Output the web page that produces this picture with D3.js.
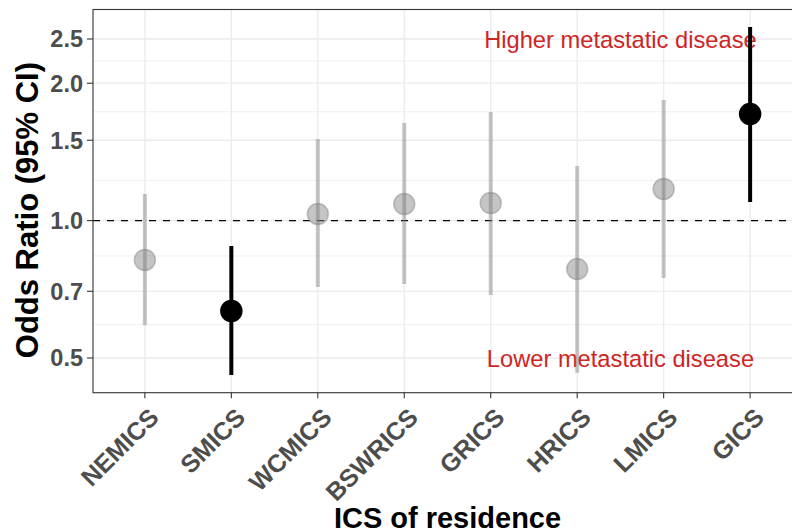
<!DOCTYPE html>
<html>
<head>
<meta charset="utf-8">
<script src="https://cdn.jsdelivr.net/npm/d3@7"></script>
<style>
  body { margin: 0; background: #fff; }
  svg { display: block; font-family: "Liberation Sans", Arial, sans-serif; }
</style>
</head>
<body>
<svg id="chart" width="792" height="532"></svg>
<script>
// odds ratios by ICS of residence
var categories = ["NEMICS","SMICS","WCMICS","BSWRICS","GRICS","HRICS","LMICS","GICS"];
var oddsRatio = [0.82, 0.634, 1.034, 1.087, 1.093, 0.783, 1.173, 1.712];
var lowerCI = [0.59, 0.459, 0.715, 0.726, 0.687, 0.464, 0.749, 1.098];
var upperCI = [1.144, 0.88, 1.509, 1.636, 1.73, 1.317, 1.838, 2.656];
var significant = [false, true, false, false, false, false, false, true];
var yTicks = [0.5, 0.7, 1.0, 1.5, 2.0, 2.5];
var annotationText = ["Higher metastatic disease", "Lower metastatic disease"];
var annotationY = [2.5, 0.5];
var annotationX = 6.5; // between HRICS and LMICS

var svg = d3.select('#chart');
var pLeft = 93, pRight = 802, pTop = 9.5, pBottom = 392.7;

var x = d3.scalePoint().domain(categories).range([pLeft, pRight]).padding(0.6);
var y = d3.scaleLog().domain([0.4197, 2.901]).range([pBottom, pTop]);
var xAt = function(pos){ return x(categories[0]) + (pos - 1) * x.step(); };

var data = categories.map(function(c, i){
    return {cat: c, or: oddsRatio[i], lo: lowerCI[i], hi: upperCI[i], sig: significant[i]};
});

// minor breaks halfway (in log space) between the major ones
var minorTicks = d3.pairs(yTicks).map(function(p){ return Math.sqrt(p[0] * p[1]); });

var grid = svg.append('g');
grid.selectAll('.minor').data(minorTicks).enter().append('line')
    .attr('x1', pLeft).attr('x2', pRight)
    .attr('y1', function(d){ return y(d); }).attr('y2', function(d){ return y(d); })
    .attr('stroke', '#ebebeb').attr('stroke-width', 0.8);
grid.selectAll('.major').data(yTicks).enter().append('line')
    .attr('x1', pLeft).attr('x2', pRight)
    .attr('y1', function(d){ return y(d); }).attr('y2', function(d){ return y(d); })
    .attr('stroke', '#ebebeb').attr('stroke-width', 1.3);
grid.selectAll('.vmajor').data(categories).enter().append('line')
    .attr('x1', function(d){ return x(d); }).attr('x2', function(d){ return x(d); })
    .attr('y1', pTop).attr('y2', pBottom)
    .attr('stroke', '#ebebeb').attr('stroke-width', 1.3);

// reference line at OR = 1
svg.append('line')
    .attr('x1', pLeft).attr('x2', pRight)
    .attr('y1', y(1)).attr('y2', y(1))
    .attr('stroke', '#000').attr('stroke-width', 1.4)
    .attr('stroke-dasharray', '7,7');

// annotations
svg.selectAll('.note').data(annotationText).enter().append('text')
    .attr('x', xAt(annotationX))
    .attr('y', function(d, i){ return y(annotationY[i]); })
    .attr('dy', '0.36em')
    .attr('text-anchor', 'middle')
    .attr('fill', '#cd2626')
    .style('font-size', '23.7px')
    .text(function(d){ return d; });

// error bars and points
var grp = svg.append('g').selectAll('g').data(data).enter().append('g');
grp.append('line')
    .attr('x1', function(d){ return x(d.cat); }).attr('x2', function(d){ return x(d.cat); })
    .attr('y1', function(d){ return y(d.lo); }).attr('y2', function(d){ return y(d.hi); })
    .attr('stroke', function(d){ return d.sig ? '#000' : '#7f7f7f'; })
    .attr('stroke-opacity', function(d){ return d.sig ? 1 : 0.45; })
    .attr('stroke-width', 4);
grp.append('circle')
    .attr('cx', function(d){ return x(d.cat); })
    .attr('cy', function(d){ return y(d.or); })
    .attr('r', 10.5)
    .attr('fill', function(d){ return d.sig ? '#000' : '#7f7f7f'; })
    .attr('fill-opacity', function(d){ return d.sig ? 1 : 0.45; })
    .attr('stroke', function(d){ return d.sig ? '#000' : '#7f7f7f'; })
    .attr('stroke-opacity', function(d){ return d.sig ? 1 : 0.45; })
    .attr('stroke-width', 1.5);

// panel border
svg.append('rect')
    .attr('x', pLeft).attr('y', pTop)
    .attr('width', pRight - pLeft).attr('height', pBottom - pTop)
    .attr('fill', 'none').attr('stroke', '#333').attr('stroke-width', 1.1);

// y axis
var yAxis = svg.append('g');
yAxis.selectAll('line').data(yTicks).enter().append('line')
    .attr('x1', pLeft - 6).attr('x2', pLeft)
    .attr('y1', function(d){ return y(d); }).attr('y2', function(d){ return y(d); })
    .attr('stroke', '#333').attr('stroke-width', 1.1);
yAxis.selectAll('text').data(yTicks).enter().append('text')
    .attr('x', pLeft - 10)
    .attr('y', function(d){ return y(d); })
    .attr('dy', '0.36em')
    .attr('text-anchor', 'end')
    .attr('fill', '#4d4d4d')
    .style('font-size', '23.5px').style('font-weight', 'bold')
    .text(d3.format('.1f'));

// x axis
var xAxis = svg.append('g');
xAxis.selectAll('line').data(categories).enter().append('line')
    .attr('x1', function(d){ return x(d); }).attr('x2', function(d){ return x(d); })
    .attr('y1', pBottom).attr('y2', pBottom + 5.5)
    .attr('stroke', '#333').attr('stroke-width', 1.1);
xAxis.selectAll('text').data(categories).enter().append('text')
    .attr('transform', function(d){ return 'translate(' + (x(d) + 3) + ',' + (pBottom + 14) + ') rotate(-45)'; })
    .attr('dy', '0.7em')
    .attr('text-anchor', 'end')
    .attr('fill', '#4d4d4d')
    .style('font-size', '25px').style('font-weight', 'bold')
    .text(function(d){ return d; });

// axis titles
svg.append('text')
    .attr('x', (pLeft + pRight) / 2).attr('y', 528)
    .attr('text-anchor', 'middle')
    .style('font-size', '29px').style('font-weight', 'bold')
    .text('ICS of residence');
svg.append('text')
    .attr('transform', 'translate(38,' + ((pTop + pBottom) / 2 + 9) + ') rotate(-90)')
    .attr('text-anchor', 'middle')
    .style('font-size', '31px').style('font-weight', 'bold')
    .text('Odds Ratio (95% CI)');
</script>
</body>
</html>
